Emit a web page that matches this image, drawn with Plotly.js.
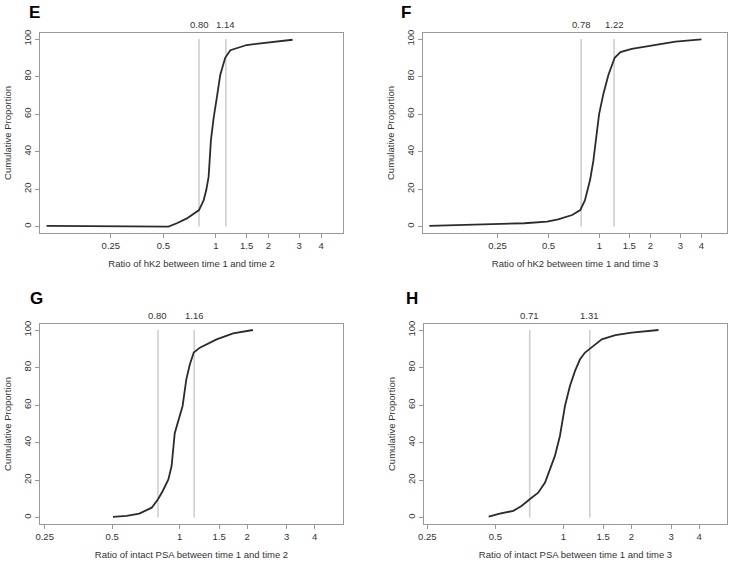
<!DOCTYPE html>
<html>
<head>
<meta charset="utf-8">
<script src="https://cdn.plot.ly/plotly-3.0.1.min.js"></script>
<style>html,body{margin:0;padding:0;background:#fff;}#chart{width:733px;height:562px;}</style>
</head>
<body>
<div id="chart"></div>
<script>
// ---- Data ----
const panelLetters = ["E", "F", "G", "H"];
const xTitles = [
  "Ratio of hK2 between time 1 and time 2",
  "Ratio of hK2 between time 1 and time 3",
  "Ratio of intact PSA between time 1 and time 2",
  "Ratio of intact PSA between time 1 and time 3"
];
const yTitle = "Cumulative Proportion";
const xTickVals = [0.25, 0.5, 1, 1.5, 2, 3, 4];
const xTickText = ["0.25", "0.5", "1", "1.5", "2", "3", "4"];
const yTickVals = [0, 20, 40, 60, 80, 100];

const E_x = [0.107, 0.25, 0.535, 0.597, 0.682, 0.80, 0.85, 0.88, 0.908, 0.936, 0.97, 1.013, 1.059, 1.13, 1.21, 1.5, 1.96, 2.75];
const E_y = [0.4, 0.2, 0, 1.8, 4.4, 8.8, 14, 19.5, 26.5, 46, 58, 69, 81, 90, 94, 96.8, 98.2, 99.6];
const E_cuts = [0.80, 1.14];

const F_x = [0.099, 0.25, 0.36, 0.49, 0.57, 0.69, 0.77, 0.82, 0.88, 0.92, 0.955, 0.995, 1.056, 1.13, 1.23, 1.33, 1.55, 2.04, 2.81, 4.0];
const F_y = [0.4, 1.2, 1.8, 2.7, 3.9, 6.2, 8.8, 14, 24.8, 35, 46, 60, 71, 81, 90, 93, 94.7, 96.5, 98.6, 99.8];
const F_cuts = [0.78, 1.22];

const G_x = [0.504, 0.58, 0.66, 0.75, 0.80, 0.84, 0.89, 0.92, 0.95, 0.98, 1.03, 1.07, 1.11, 1.155, 1.23, 1.46, 1.73, 2.12];
const G_y = [0.4, 0.9, 2.1, 5.3, 9.8, 14.2, 20.4, 27.5, 45, 50.6, 59.5, 73.7, 81.7, 88, 90.6, 95, 98.2, 100];
const G_cuts = [0.80, 1.16];

const H_x = [0.467, 0.523, 0.6, 0.653, 0.71, 0.774, 0.83, 0.87, 0.918, 0.966, 1.017, 1.07, 1.127, 1.186, 1.248, 1.33, 1.48, 1.70, 2.01, 2.64];
const H_y = [0.5, 2.1, 3.6, 6.2, 9.8, 13.3, 18.7, 25.8, 32.9, 43.5, 59.5, 70.2, 78.2, 84.4, 88, 90.6, 95, 97.3, 98.6, 100];
const H_cuts = [0.71, 1.31];

// ---- Layout geometry ----
const W = 733, H = 562;
const boxes = [ // [left, right, top, bottom] in px
  [40, 343, 33, 233],
  [423, 727, 33, 233],
  [40, 343, 324, 524],
  [424, 727, 324, 524]
];
const xRanges = [[-1.008, 0.728], [-1.042, 0.753], [-0.623, 0.728], [-0.617, 0.725]];
const yRange = [-3.4, 103.2];
const letterPos = [[34, 13], [406, 13], [36, 298], [412, 298]];

const panels = [
  {x: E_x, y: E_y, cuts: E_cuts},
  {x: F_x, y: F_y, cuts: F_cuts},
  {x: G_x, y: G_y, cuts: G_cuts},
  {x: H_x, y: H_y, cuts: H_cuts}
];

const FONT = "Liberation Sans, Arial, sans-serif";
const textCol = "#333";
const boxCol = "#999";

const traces = [];
const layout = {
  width: W, height: H,
  margin: {l: 0, r: 0, t: 0, b: 0},
  paper_bgcolor: "#fff", plot_bgcolor: "#fff",
  showlegend: false,
  font: {family: FONT, size: 9.5, color: textCol},
  annotations: []
};

panels.forEach((p, i) => {
  const n = i + 1;
  const xa = n === 1 ? "x" : "x" + n;
  const ya = n === 1 ? "y" : "y" + n;
  const xk = n === 1 ? "xaxis" : "xaxis" + n;
  const yk = n === 1 ? "yaxis" : "yaxis" + n;
  const b = boxes[i];

  // cut lines
  p.cuts.forEach(c => {
    traces.push({
      type: "scatter", mode: "lines", x: [c, c], y: [0, 100],
      xaxis: xa, yaxis: ya, line: {color: "#cfcfcf", width: 1.6},
      hoverinfo: "skip"
    });
    layout.annotations.push({
      xref: xa, yref: ya + " domain", x: Math.log10(c), y: 1,
      text: c.toFixed(2), showarrow: false, xanchor: "center", yanchor: "bottom",
      yshift: 1, font: {family: FONT, size: 9.5, color: textCol}
    });
  });

  // curve
  traces.push({
    type: "scatter", mode: "lines", x: p.x, y: p.y,
    xaxis: xa, yaxis: ya, line: {color: "#2b2b2b", width: 1.8},
    hoverinfo: "skip"
  });

  layout[xk] = {
    domain: [b[0] / W, b[1] / W],
    anchor: ya, type: "log", range: xRanges[i],
    tickvals: xTickVals, ticktext: xTickText,
    ticks: "outside", ticklen: 4, tickcolor: boxCol, tickwidth: 1,
    showline: true, mirror: true, linecolor: boxCol, linewidth: 1,
    showgrid: false, zeroline: false,
    tickfont: {family: FONT, size: 9.5, color: textCol},
    title: {text: xTitles[i], standoff: 9, font: {family: FONT, size: 9.5, color: textCol}}
  };
  layout[yk] = {
    domain: [1 - b[3] / H, 1 - b[2] / H],
    anchor: xa, range: yRange,
    tickvals: yTickVals, tickangle: -90,
    ticks: "outside", ticklen: 4, tickcolor: boxCol, tickwidth: 1,
    showline: true, mirror: true, linecolor: boxCol, linewidth: 1,
    showgrid: false, zeroline: false,
    tickfont: {family: FONT, size: 9.5, color: textCol},
    title: {text: yTitle, standoff: 8, font: {family: FONT, size: 9.5, color: textCol}}
  };

  layout.annotations.push({
    xref: "paper", yref: "paper",
    x: letterPos[i][0] / W, y: 1 - letterPos[i][1] / H,
    text: "<b>" + panelLetters[i] + "</b>", showarrow: false,
    xanchor: "center", yanchor: "middle",
    font: {family: FONT, size: 17, color: "#000"}
  });
});

Plotly.newPlot("chart", traces, layout, {displayModeBar: false, staticPlot: true});
</script>
</body>
</html>
